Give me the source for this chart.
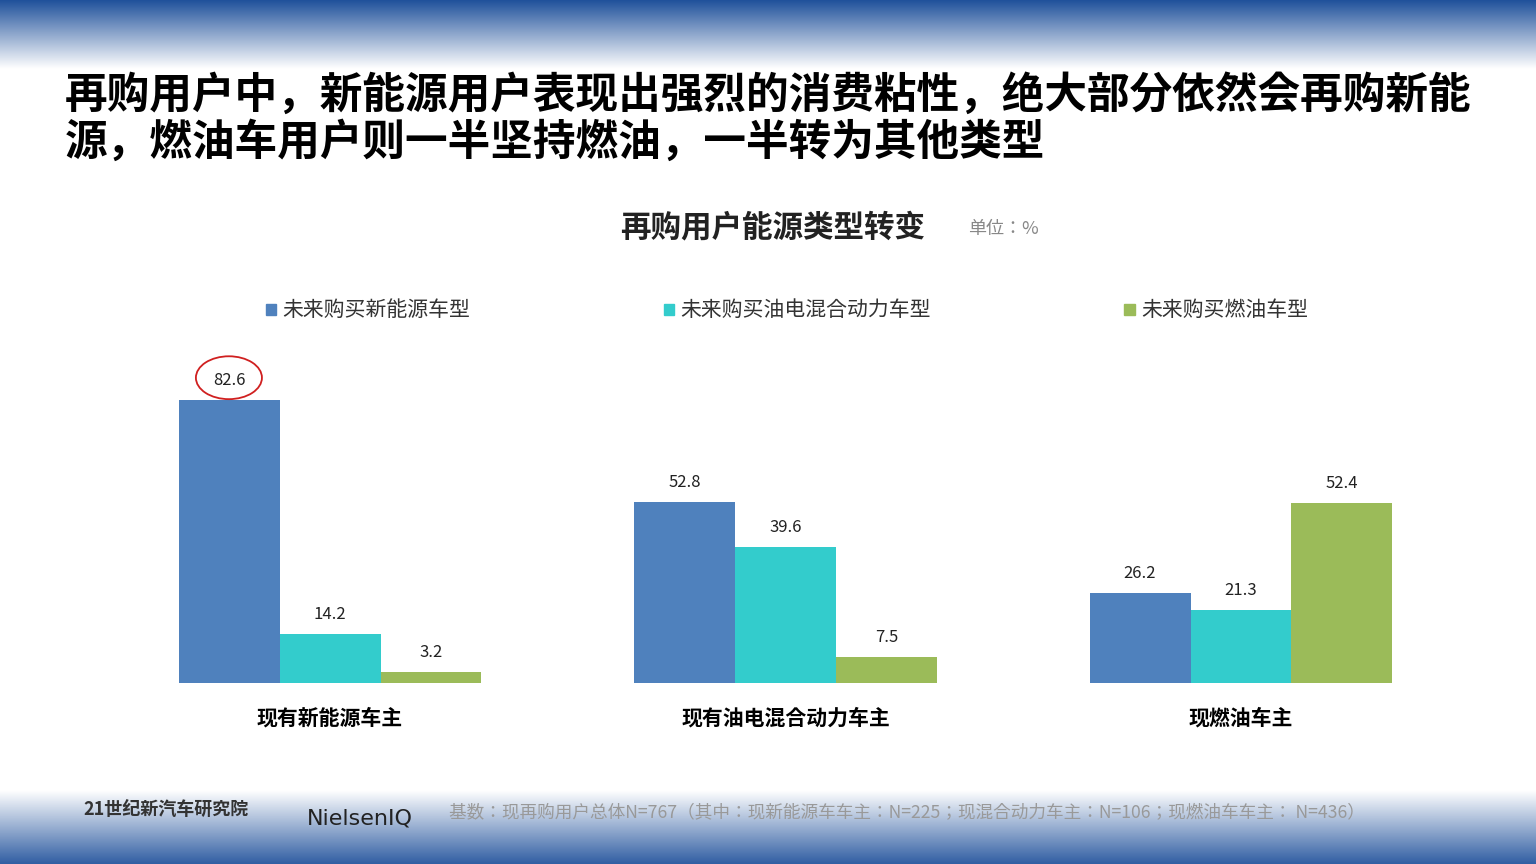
import numpy as np, pandas as pd, matplotlib
matplotlib.use("Agg")
import matplotlib.pyplot as plt, seaborn as sns
from matplotlib.patches import Ellipse
from matplotlib.colors import LinearSegmentedColormap

plt.rcParams["font.family"] = ["Noto Sans CJK JP", "DejaVu Sans"]
groups = ["现有新能源车主", "现有油电混合动力车主", "现燃油车主"]
series = ["未来购买新能源车型", "未来购买油电混合动力车型", "未来购买燃油车型"]
values = [[82.6, 52.8, 26.2], [14.2, 39.6, 21.3], [3.2, 7.5, 52.4]]
colors = ["#4F81BD", "#33CCCC", "#9BBB59"]

df = pd.DataFrame([(g, s, values[j][i]) for j, s in enumerate(series) for i, g in enumerate(groups)],
                  columns=["group", "series", "value"])

fig = plt.figure(figsize=(15.36, 8.64), dpi=100)
bg = fig.add_axes([0, 0, 1, 1]); bg.axis("off"); bg.set_xlim(0, 1); bg.set_ylim(0, 1)
top = np.linspace(0, 1, 100).reshape(-1, 1)
cm = LinearSegmentedColormap.from_list("b", ["#ffffff", "#1d4f9a"])
bg.imshow(top, extent=[0, 1, 0.92, 1], aspect="auto", cmap=cm, origin="lower", vmin=0, vmax=1)
bg.imshow(top[::-1], extent=[0, 1, 0, 0.085], aspect="auto", cmap=cm, origin="lower", vmin=0, vmax=1.1)

ax = fig.add_axes([0.0666, 0.2095, 0.8896, 0.397])
sns.barplot(data=df, x="group", y="value", hue="series", palette=colors, width=0.665,
            gap=0, saturation=1, ax=ax, legend=False)
ax.set_ylim(0, 100); ax.set_xlim(-0.5, 2.5)
for s in ax.spines.values(): s.set_visible(False)
ax.set_yticks([]); ax.set_xlabel(""); ax.set_ylabel("")
ax.tick_params(axis="x", length=0, pad=18, labelsize=15)
for t in ax.get_xticklabels(): t.set_fontweight("bold")
for c in ax.containers:
    ax.bar_label(c, fmt="%.1f", padding=8, fontsize=12, color="#222222")
ax.add_patch(Ellipse((-0.222, 89), 0.145, 12.5, fill=False, ec="#d02020", lw=1.3, clip_on=False))

fig.text(0.042, 0.863, "再购用户中，新能源用户表现出强烈的消费粘性，绝大部分依然会再购新能\n源，燃油车用户则一半坚持燃油，一半转为其他类型",
         fontsize=30.7, fontweight="bold", va="center", linespacing=1.1)
fig.text(0.503, 0.737, "再购用户能源类型转变", fontsize=22, fontweight="bold", ha="center", va="center", color="#222222")
fig.text(0.63, 0.735, "单位：%", fontsize=13, va="center", color="#888888")
for x, s, c in zip([0.173, 0.432, 0.732], series, colors):
    fig.patches.append(plt.Rectangle((x, 0.635), 0.007, 0.013, color=c, transform=fig.transFigure))
    fig.text(x + 0.011, 0.641, s, fontsize=15, va="center", color="#333333")
fig.text(0.054, 0.063, "21世纪新汽车研究院", fontsize=13, fontweight="bold", color="#333333", va="center")
fig.text(0.2, 0.053, "NielsenIQ", fontsize=16, color="#222222", va="center", fontfamily="DejaVu Sans")
fig.text(0.292, 0.06, "基数：现再购用户总体N=767（其中：现新能源车车主：N=225；现混合动力车主：N=106；现燃油车车主： N=436）",
         fontsize=12.7, color="#999999", va="center")
fig.savefig("out.png", dpi=100)
